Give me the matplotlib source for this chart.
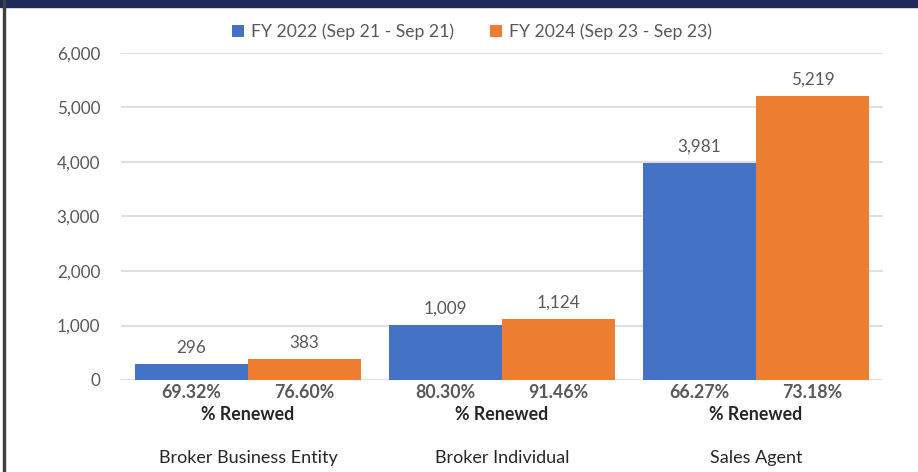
import matplotlib
matplotlib.use("Agg")
import matplotlib.pyplot as plt
from matplotlib.patches import Rectangle
import numpy as np

categories = ["Broker Business Entity", "Broker Individual", "Sales Agent"]
series_names = ["FY 2022 (Sep 21 - Sep 21)", "FY 2024 (Sep 23 - Sep 23)"]
fy2022 = [296, 1009, 3981]
fy2024 = [383, 1124, 5219]
pct2022 = ["69.32%", "80.30%", "66.27%"]
pct2024 = ["76.60%", "91.46%", "73.18%"]
sub_label = "% Renewed"
yticks = [0, 1000, 2000, 3000, 4000, 5000, 6000]

plt.rcParams['font.family'] = ['Lato', 'DejaVu Sans']

W, H = 918, 472
fig = plt.figure(figsize=(W / 100, H / 100), dpi=100)
ax = fig.add_axes([121 / W, 1 - 380 / H, 762 / W, 327 / H])

blue = "#4472C4"
orange = "#ED7D31"
gray_txt = "#595959"

x = np.arange(len(categories))
bw = 0.445
b1 = ax.bar(x - bw / 2, fy2022, bw, color=blue, label=series_names[0], zorder=3)
b2 = ax.bar(x + bw / 2, fy2024, bw, color=orange, label=series_names[1], zorder=3)

for bars, vals in ((b1, fy2022), (b2, fy2024)):
    for r, v in zip(bars, vals):
        ax.annotate(f"{v:,}", (r.get_x() + r.get_width() / 2, v), xytext=(0, 11.5),
                    textcoords="offset points", ha="center", va="center",
                    fontsize=12.3, color=gray_txt)

ax.set_xlim(-0.5, len(categories) - 0.5)
ax.set_ylim(0, 6000)
ax.set_yticks(yticks)
ax.set_yticklabels([f"{t:,}" for t in yticks], fontsize=12.3, color=gray_txt)
ax.tick_params(axis="y", length=0, pad=15)
ax.set_xticks([])
ax.grid(axis="y", color="#D9D9D9", linewidth=1.2, zorder=0)
for s in ax.spines.values():
    s.set_visible(False)

tr = ax.get_xaxis_transform()
for i in range(len(categories)):
    ax.text(i - bw / 2, -0.037, pct2022[i], transform=tr, ha="center", va="center",
            fontsize=12.8, fontweight="bold", color=gray_txt)
    ax.text(i + bw / 2, -0.037, pct2024[i], transform=tr, ha="center", va="center",
            fontsize=12.8, fontweight="bold", color=gray_txt)
    ax.text(i, -0.104, sub_label, transform=tr, ha="center", va="center",
            fontsize=12.8, fontweight="bold", color="#262626")
    ax.text(i, -0.2385, categories[i], transform=tr, ha="center", va="center",
            fontsize=13, color="#262626")

fig.legend(loc="center", bbox_to_anchor=(472 / W, 1 - 32 / H), ncol=2, frameon=False,
           fontsize=12.7, handlelength=0.7, handleheight=0.7, handletextpad=0.4,
           columnspacing=2.0, labelcolor=gray_txt)

# top navy band and left border
fig.patches.append(Rectangle((0, 1 - 7 / H), 1, 7 / H, transform=fig.transFigure,
                             color="#1F2A5C", zorder=10))
fig.patches.append(Rectangle((3 / W, 0), 2 / W, 1, transform=fig.transFigure,
                             color="#404040", zorder=10))

fig.savefig("out.png", dpi=100)
